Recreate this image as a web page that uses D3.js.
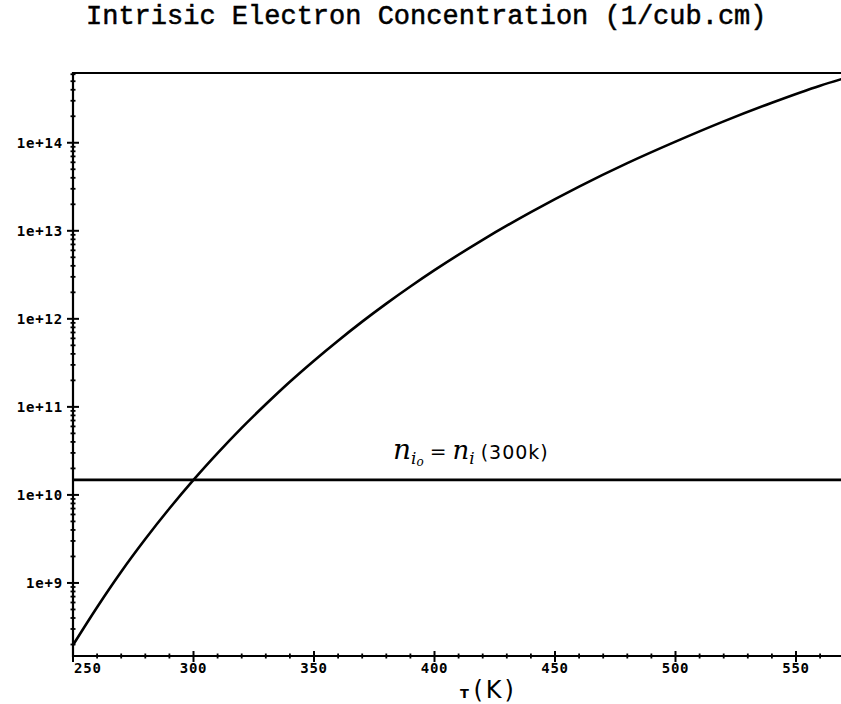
<!DOCTYPE html>
<html>
<head>
<meta charset="utf-8">
<script src="https://cdn.jsdelivr.net/npm/d3@7"></script>
<style>
  body { margin: 0; background: #fff; }
</style>
</head>
<body>
<div id="chart"></div>
<script>
// curve: temperature (K) and n_i (1/cm^3)
var temps = [250, 260, 270, 280, 290, 300, 310, 320, 330, 340, 350, 360, 370, 380, 390, 400,
             420, 440, 460, 480, 500, 520, 540, 560, 570];
var conc = [1.97e8, 5.3e8, 1.34e9, 3.15e9, 7.0e9, 1.48e10, 2.98e10, 5.77e10, 1.07e11, 1.93e11,
            3.35e11, 5.65e11, 9.3e11, 1.49e12, 2.33e12, 3.57e12, 7.9e12, 1.63e13, 3.18e13,
            5.87e13, 1.03e14, 1.75e14, 2.85e14, 4.45e14, 5.4e14];
var ni300 = 1.48e10;
var xTicks = [250, 300, 350, 400, 450, 500, 550];
var yTicks = [1e9, 1e10, 1e11, 1e12, 1e13, 1e14];

var W = 841, H = 704;
var padL = 73, padT = 73, padB = 656;

var svg = d3.select("#chart").append("svg")
  .attr("width", W)
  .attr("height", H);

var x = d3.scaleLinear().domain([250, 550]).range([padL, 796]);
var y = d3.scaleLog().domain([1.48e8, 6.2e14]).range([padB, padT]);

svg.append("defs").append("clipPath").attr("id", "plot")
  .append("rect").attr("x", padL).attr("y", padT).attr("width", W - padL).attr("height", padB - padT);

// title
svg.append("text")
  .attr("x", 86)
  .attr("y", 24)
  .attr("font-family", "Liberation Mono, monospace")
  .attr("font-size", 27)
  .attr("fill", "#000")
  .attr("stroke", "#000")
  .attr("stroke-width", 0.5)
  .text("Intrisic Electron Concentration (1/cub.cm)");

// frame
svg.append("path")
  .attr("d", "M" + (W + 10) + "," + padT + "H" + padL + "V" + padB + "H" + (W + 10))
  .attr("fill", "none")
  .attr("stroke", "#000")
  .attr("stroke-width", 2.2);

// y axis: log ticks crossing the axis line
var yMinor = [];
for (var d = 8; d <= 14; d++) {
  for (var k = 1; k <= 9; k++) {
    var v = k * Math.pow(10, d);
    if (v >= y.domain()[0] && v <= y.domain()[1]) yMinor.push(v);
  }
}
var yAxis = svg.append("g").attr("transform", "translate(" + padL + ",0)");
yAxis.selectAll("line.tick")
  .data(yMinor)
  .enter().append("line")
  .attr("class", "tick")
  .attr("x1", v => yTicks.indexOf(v) >= 0 ? -6 : -2.5)
  .attr("x2", v => yTicks.indexOf(v) >= 0 ? 6 : 2.5)
  .attr("y1", v => y(v))
  .attr("y2", v => y(v))
  .attr("stroke", "#000")
  .attr("stroke-width", v => yTicks.indexOf(v) >= 0 ? 2 : 1.8);
yAxis.selectAll("text")
  .data(yTicks)
  .enter().append("text")
  .attr("x", -10)
  .attr("y", v => y(v))
  .attr("dy", "0.35em")
  .attr("text-anchor", "end")
  .attr("font-family", "DejaVu Sans Mono, monospace")
  .attr("font-weight", "bold")
  .attr("font-size", 14)
  .attr("letter-spacing", 0.8)
  .text(v => "1e+" + Math.round(Math.log10(v)));

// x axis: ticks every 10 K, labels every 50 K
var xMinor = d3.range(250, 571, 10);
var xAxis = svg.append("g").attr("transform", "translate(0," + padB + ")");
xAxis.selectAll("line.tick")
  .data(xMinor)
  .enter().append("line")
  .attr("class", "tick")
  .attr("x1", v => x(v))
  .attr("x2", v => x(v))
  .attr("y1", v => v % 50 === 0 ? -5 : -2.5)
  .attr("y2", v => v % 50 === 0 ? 6 : 2.5)
  .attr("stroke", "#000")
  .attr("stroke-width", v => v % 50 === 0 ? 2 : 1.8);
xAxis.selectAll("text")
  .data(xTicks)
  .enter().append("text")
  .attr("x", (v, i) => i === 0 ? x(v) + 1 : x(v))
  .attr("y", 17)
  .attr("text-anchor", (v, i) => i === 0 ? "start" : "middle")
  .attr("font-family", "DejaVu Sans Mono, monospace")
  .attr("font-weight", "bold")
  .attr("font-size", 14)
  .attr("letter-spacing", 0.8)
  .text(v => v);

// x axis title (hand-written in the original)
var xt = svg.append("text")
  .attr("x", 460)
  .attr("y", 698)
  .attr("font-family", "DejaVu Sans, sans-serif")
  .attr("font-weight", "bold")
  .attr("fill", "#000");
xt.append("tspan").attr("font-size", 13).text("T ");
xt.append("tspan").attr("font-size", 24).attr("font-weight", "normal")
  .attr("letter-spacing", 3).text("(K)");

var plot = svg.append("g").attr("clip-path", "url(#plot)");

// n_i0 reference line
plot.append("line")
  .attr("x1", x(250))
  .attr("x2", W + 10)
  .attr("y1", y(ni300))
  .attr("y2", y(ni300))
  .attr("stroke", "#000")
  .attr("stroke-width", 2.6);

// concentration curve
var line = d3.line()
  .x((d, i) => x(temps[i]))
  .y(d => y(d))
  .curve(d3.curveMonotoneX);
plot.append("path")
  .datum(conc)
  .attr("d", line)
  .attr("fill", "none")
  .attr("stroke", "#000")
  .attr("stroke-width", 2.6);

// hand-written annotation
var note = svg.append("text")
  .attr("x", 393)
  .attr("y", 459)
  .attr("font-family", "DejaVu Serif, serif")
  .attr("font-style", "italic")
  .attr("font-size", 28)
  .attr("fill", "#000");
note.append("tspan").text("n");
note.append("tspan").attr("font-size", 17).attr("dy", 5).text("i");
note.append("tspan").attr("font-size", 12).attr("dy", 2).text("o");
note.append("tspan").attr("dy", -7).attr("dx", 6).attr("font-size", 20).text("=");
note.append("tspan").attr("dx", 6).attr("font-size", 26).text("n");
note.append("tspan").attr("font-size", 17).attr("dy", 5).text("i");
note.append("tspan").attr("dy", -5).attr("dx", 6).attr("font-style", "normal")
  .attr("font-family", "DejaVu Sans, sans-serif").attr("font-size", 19).attr("letter-spacing", 1).text("(300k)");
</script>
</body>
</html>
